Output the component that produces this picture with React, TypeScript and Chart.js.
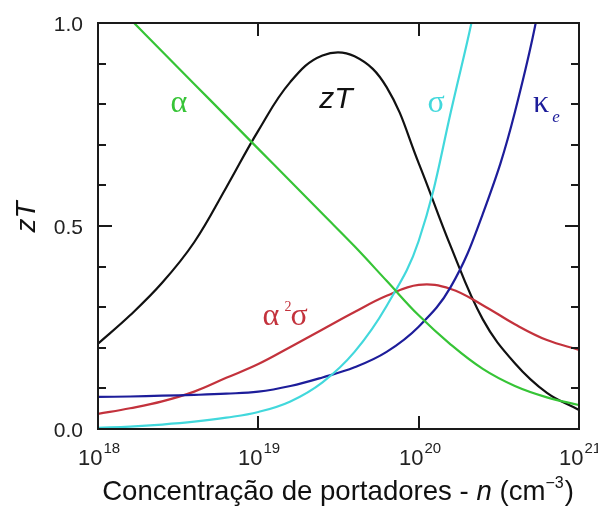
import React, { useEffect, useRef } from "react";
import { Chart, registerables } from "chart.js";

Chart.register(...registerables);

// carrier concentration n (cm^-3), 0.2-decade steps
const carrierN = [1e18, 1.585e18, 2.512e18, 3.981e18, 6.31e18, 1e19, 1.585e19, 2.512e19, 3.981e19, 6.31e19, 1e20, 1.585e20, 2.512e20, 3.981e20, 6.31e20, 1e21];
// Seebeck coefficient alpha (normalised)
const alphaVals = [1.09, 1.01, 0.93, 0.85, 0.77, 0.69, 0.61, 0.53, 0.45, 0.365, 0.28, 0.208, 0.148, 0.106, 0.078, 0.059];
// electrical conductivity sigma (normalised)
const sigmaVals = [0.003, 0.006, 0.011, 0.018, 0.028, 0.042, 0.068, 0.115, 0.19, 0.303, 0.463, 0.78, 1.16, 1.9, 2.8, 4.0];
// electronic thermal conductivity kappa_e (normalised)
const kappaVals = [0.079, 0.08, 0.082, 0.084, 0.087, 0.092, 0.106, 0.127, 0.152, 0.19, 0.252, 0.35, 0.53, 0.78, 1.15, 1.7];
// power factor alpha^2 sigma (normalised)
const pfVals = [0.037, 0.051, 0.068, 0.092, 0.126, 0.16, 0.202, 0.245, 0.288, 0.328, 0.355, 0.345, 0.305, 0.258, 0.219, 0.195];
// figure of merit zT
const ztVals = [0.21, 0.28, 0.36, 0.46, 0.595, 0.735, 0.855, 0.92, 0.918, 0.842, 0.655, 0.45, 0.27, 0.162, 0.089, 0.047];

const yTickValues = [0, 0.1, 0.2, 0.3, 0.4, 0.5, 0.6, 0.7, 0.8, 0.9, 1.0];
const yTickLabels = ["0.0", "", "", "", "", "0.5", "", "", "", "", "1.0"];
const xTickExponents = [18, 19, 20, 21];

const COLORS = {
  alpha: "#36c436",
  sigma: "#42d8dc",
  kappa: "#1d1d9a",
  pf: "#c3323c",
  zt: "#111111",
};

const SANS = "'Liberation Sans', Arial, sans-serif";
const SERIF = "'Liberation Serif', 'Times New Roman', serif";

const decorPlugin = {
  id: "decor",
  afterDatasetsDraw(chart: any) {
    const { ctx, chartArea, scales } = chart;
    const { left, right, top, bottom } = chartArea;
    const xs = scales.x;
    const ys = scales.y;
    ctx.save();

    // frame
    ctx.strokeStyle = "#1a1a1a";
    ctx.lineWidth = 2;
    ctx.strokeRect(left, top, right - left, bottom - top);

    // y ticks (inside, both sides)
    yTickValues.forEach((v, i) => {
      const y = Math.round(ys.getPixelForValue(v));
      const len = yTickLabels[i] ? 14 : 8;
      ctx.beginPath();
      ctx.moveTo(left, y);
      ctx.lineTo(left + len, y);
      ctx.moveTo(right, y);
      ctx.lineTo(right - len, y);
      ctx.stroke();
      if (yTickLabels[i]) {
        ctx.fillStyle = "#222";
        ctx.font = `21px ${SANS}`;
        ctx.textAlign = "right";
        ctx.textBaseline = "alphabetic";
        ctx.fillText(yTickLabels[i], left - 15, y + 7.5);
      }
    });

    // x ticks (decades, inside top & bottom)
    xTickExponents.forEach((e) => {
      const x = Math.round(xs.getPixelForValue(Math.pow(10, e)));
      ctx.beginPath();
      ctx.moveTo(x, bottom);
      ctx.lineTo(x, bottom - 13);
      ctx.moveTo(x, top);
      ctx.lineTo(x, top + 13);
      ctx.stroke();
      // label 10^e
      ctx.fillStyle = "#222";
      ctx.textBaseline = "alphabetic";
      ctx.textAlign = "left";
      ctx.font = `22px ${SANS}`;
      const wBase = ctx.measureText("10").width;
      ctx.font = `15px ${SANS}`;
      const wExp = ctx.measureText(String(e)).width;
      const x0 = x + 1 - (wBase + wExp + 1) / 2;
      ctx.font = `22px ${SANS}`;
      ctx.fillText("10", x0, bottom + 36);
      ctx.font = `15px ${SANS}`;
      ctx.fillText(String(e), x0 + wBase + 1, bottom + 24);
    });

    // x axis title
    {
      ctx.fillStyle = "#111";
      ctx.textBaseline = "alphabetic";
      ctx.textAlign = "left";
      const fs = 27.6;
      const parts: [string, string][] = [
        ["Concentração de portadores - ", `${fs}px ${SANS}`],
        ["n", `italic ${fs}px ${SANS}`],
        [" (cm", `${fs}px ${SANS}`],
      ];
      ctx.font = `16px ${SANS}`;
      const supW = ctx.measureText("\u22123").width;
      let total = 0;
      parts.forEach(([t, f]) => {
        ctx.font = f;
        total += ctx.measureText(t).width;
      });
      ctx.font = `${fs}px ${SANS}`;
      total += supW + 1 + ctx.measureText(")").width;
      let x = 338 - total / 2;
      const yb = bottom + 71;
      parts.forEach(([t, f]) => {
        ctx.font = f;
        ctx.fillText(t, x, yb);
        x += ctx.measureText(t).width;
      });
      ctx.font = `16px ${SANS}`;
      ctx.fillText("\u22123", x, yb - 12);
      x += supW + 1;
      ctx.font = `${fs}px ${SANS}`;
      ctx.fillText(")", x, yb);
    }

    // y axis title
    ctx.save();
    ctx.translate(35, 217);
    ctx.rotate(-Math.PI / 2);
    ctx.font = `italic 28px ${SANS}`;
    ctx.fillStyle = "#111";
    ctx.textAlign = "center";
    ctx.textBaseline = "alphabetic";
    ctx.fillText("zT", 0, 0);
    ctx.restore();

    // curve labels
    ctx.textBaseline = "alphabetic";
    ctx.textAlign = "center";
    ctx.font = `32px ${SERIF}`;
    ctx.fillStyle = COLORS.alpha;
    ctx.fillText("\u03b1", 179, 112);
    ctx.fillStyle = COLORS.sigma;
    ctx.fillText("\u03c3", 436, 112);
    ctx.fillStyle = COLORS.kappa;
    ctx.fillText("\u03ba", 541, 112);
    ctx.font = `italic 17px ${SERIF}`;
    ctx.fillText("e", 556, 122);

    ctx.fillStyle = COLORS.zt;
    ctx.font = `italic 30px ${SANS}`;
    ctx.fillText("zT", 336, 108);

    ctx.fillStyle = COLORS.pf;
    ctx.font = `32px ${SERIF}`;
    ctx.fillText("\u03b1", 271, 325);
    ctx.font = `14px ${SERIF}`;
    ctx.fillText("2", 288, 311);
    ctx.font = `32px ${SERIF}`;
    ctx.fillText("\u03c3", 299, 325);

    ctx.restore();
  },
};

function series(vals: number[]) {
  return carrierN.map((n, i) => ({ x: n, y: vals[i] }));
}

export default function App() {
  const canvasRef = useRef<HTMLCanvasElement | null>(null);

  useEffect(() => {
    if (!canvasRef.current) return;
    const mk = (label: string, vals: number[], color: string) => ({
      label,
      data: series(vals),
      borderColor: color,
      backgroundColor: color,
      borderWidth: 2.2,
      pointRadius: 0,
      fill: false,
      tension: 0.4,
      clip: 0,
    });
    const chart = new Chart(canvasRef.current, {
      type: "line",
      data: {
        datasets: [
          mk("α", alphaVals, COLORS.alpha),
          mk("σ", sigmaVals, COLORS.sigma),
          mk("κe", kappaVals, COLORS.kappa),
          mk("α²σ", pfVals, COLORS.pf),
          mk("zT", ztVals, COLORS.zt),
        ],
      },
      options: {
        animation: false,
        responsive: false,
        devicePixelRatio: 1,
        layout: { padding: { left: 98, right: 19, top: 23, bottom: 77 } },
        plugins: {
          legend: { display: false },
          tooltip: { enabled: false },
        },
        scales: {
          x: { type: "logarithmic", min: 1e18, max: 1e21, display: false },
          y: { type: "linear", min: 0, max: 1, display: false },
        },
      },
      plugins: [decorPlugin],
    });
    return () => chart.destroy();
  }, []);

  return (
    <div style={{ position: "fixed", left: 0, top: 0, width: 598, height: 506, background: "#fff" }}>
      <canvas ref={canvasRef} width={598} height={506} />
    </div>
  );
}
